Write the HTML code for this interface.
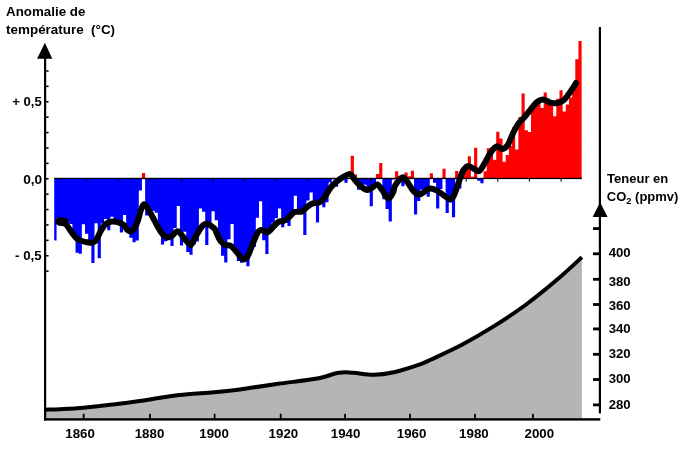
<!DOCTYPE html>
<html><head><meta charset="utf-8"><title>Anomalie de température et teneur en CO2</title>
<style>
html,body{margin:0;padding:0;background:#fff;}
body{width:690px;height:449px;overflow:hidden;}
svg{display:block;}
text{font-family:"Liberation Sans",sans-serif;font-weight:bold;fill:#000;}
.n{font-size:12.8px;}
.t{font-size:13px;}
</style></head><body>
<svg width="690" height="449" viewBox="0 0 690 449">
<rect width="690" height="449" fill="#fff"/>
<!-- CO2 area -->
<path d="M45.5,409.7 C47.9,409.6 53.7,409.5 60.0,409.2 C66.3,408.9 74.8,408.6 83.5,407.8 C92.2,407.0 101.4,406.0 112.5,404.6 C123.6,403.2 138.9,401.0 150.0,399.4 C161.1,397.8 168.3,396.2 179.0,395.0 C189.7,393.8 203.8,393.1 214.0,392.2 C224.2,391.3 234.2,390.2 240.0,389.5 C245.8,388.8 242.7,389.1 249.0,388.1 C255.3,387.2 266.9,385.4 278.0,383.8 C289.1,382.2 305.6,380.6 315.7,378.8 C325.8,377.0 332.5,373.8 338.8,372.8 C345.1,371.8 347.5,372.5 353.3,372.8 C359.1,373.1 366.8,374.9 373.6,374.8 C380.4,374.7 386.2,373.9 393.9,372.2 C401.6,370.4 413.8,366.4 420.0,364.3 C426.2,362.2 424.1,362.8 431.2,359.5 C438.3,356.2 452.0,350.0 462.4,344.5 C472.8,339.0 483.2,332.9 493.6,326.4 C504.0,319.9 514.4,313.1 524.8,305.5 C535.2,297.9 546.5,288.7 556.0,280.6 C565.5,272.6 577.6,261.1 581.9,257.2 L581.9,419.5 L45.5,419.5 Z" fill="#b5b5b5"/>
<path d="M45.5,409.7 C47.9,409.6 53.7,409.5 60.0,409.2 C66.3,408.9 74.8,408.6 83.5,407.8 C92.2,407.0 101.4,406.0 112.5,404.6 C123.6,403.2 138.9,401.0 150.0,399.4 C161.1,397.8 168.3,396.2 179.0,395.0 C189.7,393.8 203.8,393.1 214.0,392.2 C224.2,391.3 234.2,390.2 240.0,389.5 C245.8,388.8 242.7,389.1 249.0,388.1 C255.3,387.2 266.9,385.4 278.0,383.8 C289.1,382.2 305.6,380.6 315.7,378.8 C325.8,377.0 332.5,373.8 338.8,372.8 C345.1,371.8 347.5,372.5 353.3,372.8 C359.1,373.1 366.8,374.9 373.6,374.8 C380.4,374.7 386.2,373.9 393.9,372.2 C401.6,370.4 413.8,366.4 420.0,364.3 C426.2,362.2 424.1,362.8 431.2,359.5 C438.3,356.2 452.0,350.0 462.4,344.5 C472.8,339.0 483.2,332.9 493.6,326.4 C504.0,319.9 514.4,313.1 524.8,305.5 C535.2,297.9 546.5,288.7 556.0,280.6 C565.5,272.6 577.6,261.1 581.9,257.2" fill="none" stroke="#000" stroke-width="4" stroke-linejoin="round"/>
<!-- bars -->
<clipPath id="bc"><rect x="54.2" y="0" width="527.8" height="449"/></clipPath>
<filter id="bl" x="-2%" y="-5%" width="104%" height="110%"><feGaussianBlur stdDeviation="0.55"/></filter>
<g clip-path="url(#bc)"><g filter="url(#bl)">
<path d="M53.40,178.40 L53.40,240.58 L56.56,240.58 L56.56,217.97 L59.73,217.97 L59.73,218.78 L62.89,218.78 L62.89,223.30 L66.05,223.30 L66.05,221.68 L69.22,221.68 L69.22,223.94 L72.38,223.94 L72.38,236.22 L75.54,236.22 L75.54,252.85 L78.70,252.85 L78.70,253.82 L81.87,253.82 L81.87,224.27 L85.03,224.27 L85.03,233.79 L88.19,233.79 L88.19,244.13 L91.36,244.13 L91.36,263.03 L94.52,263.03 L94.52,223.30 L97.68,223.30 L97.68,258.18 L100.84,258.18 L100.84,223.46 L104.01,223.46 L104.01,218.94 L107.17,218.94 L107.17,230.24 L110.33,230.24 L110.33,216.84 L113.50,216.84 L113.50,220.71 L116.66,220.71 L116.66,222.97 L119.82,222.97 L119.82,232.50 L122.99,232.50 L122.99,215.06 L126.15,215.06 L126.15,227.50 L129.31,227.50 L129.31,237.83 L132.47,237.83 L132.47,242.19 L135.64,242.19 L135.64,240.42 L138.80,240.42 L138.80,190.51 L141.96,190.51 L141.96,178.40 L145.13,178.40 L145.13,215.55 L148.29,215.55 L148.29,215.06 L151.45,215.06 L151.45,210.70 L154.62,210.70 L154.62,212.80 L157.78,212.80 L157.78,226.20 L160.94,226.20 L160.94,244.45 L164.10,244.45 L164.10,241.22 L167.27,241.22 L167.27,237.67 L170.43,237.67 L170.43,245.91 L173.59,245.91 L173.59,227.98 L176.76,227.98 L176.76,206.02 L179.92,206.02 L179.92,245.58 L183.08,245.58 L183.08,231.69 L186.25,231.69 L186.25,251.88 L189.41,251.88 L189.41,254.79 L192.57,254.79 L192.57,244.62 L195.73,244.62 L195.73,241.38 L198.90,241.38 L198.90,208.44 L202.06,208.44 L202.06,211.67 L205.22,211.67 L205.22,244.94 L208.39,244.94 L208.39,225.07 L211.55,225.07 L211.55,211.18 L214.71,211.18 L214.71,220.23 L217.88,220.23 L217.88,243.32 L221.04,243.32 L221.04,255.76 L224.20,255.76 L224.20,262.38 L227.37,262.38 L227.37,239.29 L230.53,239.29 L230.53,224.10 L233.69,224.10 L233.69,253.50 L236.85,253.50 L236.85,260.93 L240.02,260.93 L240.02,262.70 L243.18,262.70 L243.18,257.54 L246.34,257.54 L246.34,266.26 L249.51,266.26 L249.51,248.98 L252.67,248.98 L252.67,246.88 L255.83,246.88 L255.83,217.81 L259.00,217.81 L259.00,201.17 L262.16,201.17 L262.16,240.25 L265.32,240.25 L265.32,253.98 L268.48,253.98 L268.48,232.18 L271.65,232.18 L271.65,222.81 L274.81,222.81 L274.81,218.29 L277.97,218.29 L277.97,208.60 L281.14,208.60 L281.14,227.17 L284.30,227.17 L284.30,222.97 L287.46,222.97 L287.46,225.88 L290.62,225.88 L290.62,213.12 L293.79,213.12 L293.79,195.84 L296.95,195.84 L296.95,212.31 L300.11,212.31 L300.11,211.67 L303.28,211.67 L303.28,234.93 L306.44,234.93 L306.44,200.53 L309.60,200.53 L309.60,192.45 L312.77,192.45 L312.77,200.53 L315.93,200.53 L315.93,222.49 L319.09,222.49 L319.09,199.56 L322.25,199.56 L322.25,207.15 L325.42,207.15 L325.42,202.14 L328.58,202.14 L328.58,182.60 L331.74,182.60 L331.74,179.37 L334.91,179.37 L334.91,186.80 L338.07,186.80 L338.07,178.40 L341.23,178.40 L341.23,178.40 L344.40,178.40 L344.40,182.76 L347.56,182.76 L347.56,179.05 L350.72,179.05 L350.72,178.40 L353.88,178.40 L353.88,178.40 L357.05,178.40 L357.05,189.87 L360.21,189.87 L360.21,184.54 L363.37,184.54 L363.37,184.70 L366.54,184.70 L366.54,190.35 L369.70,190.35 L369.70,206.34 L372.86,206.34 L372.86,186.80 L376.03,186.80 L376.03,178.40 L379.19,178.40 L379.19,178.40 L382.35,178.40 L382.35,199.23 L385.51,199.23 L385.51,209.09 L388.68,209.09 L388.68,221.52 L391.84,221.52 L391.84,179.53 L395.00,179.53 L395.00,178.40 L398.17,178.40 L398.17,178.40 L401.33,178.40 L401.33,186.31 L404.49,186.31 L404.49,178.40 L407.66,178.40 L407.66,178.40 L410.82,178.40 L410.82,178.40 L413.98,178.40 L413.98,214.41 L417.14,214.41 L417.14,201.01 L420.31,201.01 L420.31,189.38 L423.47,189.38 L423.47,190.35 L426.63,190.35 L426.63,196.65 L429.80,196.65 L429.80,178.40 L432.96,178.40 L432.96,182.76 L436.12,182.76 L436.12,208.44 L439.29,208.44 L439.29,188.90 L442.45,188.90 L442.45,178.40 L445.61,178.40 L445.61,212.96 L448.77,212.96 L448.77,202.46 L451.94,202.46 L451.94,217.32 L455.10,217.32 L455.10,178.40 L458.26,178.40 L458.26,188.41 L461.43,188.41 L461.43,178.40 L464.59,178.40 L464.59,178.40 L467.75,178.40 L467.75,178.40 L470.92,178.40 L470.92,178.40 L474.08,178.40 L474.08,178.40 L477.24,178.40 L477.24,180.66 L480.40,180.66 L480.40,183.25 L483.57,183.25 L483.57,178.40 L486.73,178.40 L486.73,178.40 L489.89,178.40 L489.89,178.40 L493.06,178.40 L493.06,178.40 L496.22,178.40 L496.22,178.40 L499.38,178.40 L499.38,178.40 L502.55,178.40 L502.55,178.40 L505.71,178.40 L505.71,178.40 L508.87,178.40 L508.87,178.40 L512.03,178.40 L512.03,178.40 L515.20,178.40 L515.20,178.40 L518.36,178.40 L518.36,178.40 L521.52,178.40 L521.52,178.40 L524.69,178.40 L524.69,178.40 L527.85,178.40 L527.85,178.40 L531.01,178.40 L531.01,178.40 L534.18,178.40 L534.18,178.40 L537.34,178.40 L537.34,178.40 L540.50,178.40 L540.50,178.40 L543.66,178.40 L543.66,178.40 L546.83,178.40 L546.83,178.40 L549.99,178.40 L549.99,178.40 L553.15,178.40 L553.15,178.40 L556.32,178.40 L556.32,178.40 L559.48,178.40 L559.48,178.40 L562.64,178.40 L562.64,178.40 L565.81,178.40 L565.81,178.40 L568.97,178.40 L568.97,178.40 L572.13,178.40 L572.13,178.40 L575.29,178.40 L575.29,178.40 L578.46,178.40 L578.46,178.40 L581.62,178.40 L581.62,178.40 Z" fill="#0000ff"/>
<path d="M53.40,178.40 L53.40,178.40 L56.56,178.40 L56.56,178.40 L59.73,178.40 L59.73,178.40 L62.89,178.40 L62.89,178.40 L66.05,178.40 L66.05,178.40 L69.22,178.40 L69.22,178.40 L72.38,178.40 L72.38,178.40 L75.54,178.40 L75.54,178.40 L78.70,178.40 L78.70,178.40 L81.87,178.40 L81.87,178.40 L85.03,178.40 L85.03,178.40 L88.19,178.40 L88.19,178.40 L91.36,178.40 L91.36,178.40 L94.52,178.40 L94.52,178.40 L97.68,178.40 L97.68,178.40 L100.84,178.40 L100.84,178.40 L104.01,178.40 L104.01,178.40 L107.17,178.40 L107.17,178.40 L110.33,178.40 L110.33,178.40 L113.50,178.40 L113.50,178.40 L116.66,178.40 L116.66,178.40 L119.82,178.40 L119.82,178.40 L122.99,178.40 L122.99,178.40 L126.15,178.40 L126.15,178.40 L129.31,178.40 L129.31,178.40 L132.47,178.40 L132.47,178.40 L135.64,178.40 L135.64,178.40 L138.80,178.40 L138.80,178.40 L141.96,178.40 L141.96,172.89 L145.13,172.89 L145.13,178.40 L148.29,178.40 L148.29,178.40 L151.45,178.40 L151.45,178.40 L154.62,178.40 L154.62,178.40 L157.78,178.40 L157.78,178.40 L160.94,178.40 L160.94,178.40 L164.10,178.40 L164.10,178.40 L167.27,178.40 L167.27,178.40 L170.43,178.40 L170.43,178.40 L173.59,178.40 L173.59,178.40 L176.76,178.40 L176.76,178.40 L179.92,178.40 L179.92,178.40 L183.08,178.40 L183.08,178.40 L186.25,178.40 L186.25,178.40 L189.41,178.40 L189.41,178.40 L192.57,178.40 L192.57,178.40 L195.73,178.40 L195.73,178.40 L198.90,178.40 L198.90,178.40 L202.06,178.40 L202.06,178.40 L205.22,178.40 L205.22,178.40 L208.39,178.40 L208.39,178.40 L211.55,178.40 L211.55,178.40 L214.71,178.40 L214.71,178.40 L217.88,178.40 L217.88,178.40 L221.04,178.40 L221.04,178.40 L224.20,178.40 L224.20,178.40 L227.37,178.40 L227.37,178.40 L230.53,178.40 L230.53,178.40 L233.69,178.40 L233.69,178.40 L236.85,178.40 L236.85,178.40 L240.02,178.40 L240.02,178.40 L243.18,178.40 L243.18,178.40 L246.34,178.40 L246.34,178.40 L249.51,178.40 L249.51,178.40 L252.67,178.40 L252.67,178.40 L255.83,178.40 L255.83,178.40 L259.00,178.40 L259.00,178.40 L262.16,178.40 L262.16,178.40 L265.32,178.40 L265.32,178.40 L268.48,178.40 L268.48,178.40 L271.65,178.40 L271.65,178.40 L274.81,178.40 L274.81,178.40 L277.97,178.40 L277.97,178.40 L281.14,178.40 L281.14,178.40 L284.30,178.40 L284.30,178.40 L287.46,178.40 L287.46,178.40 L290.62,178.40 L290.62,178.40 L293.79,178.40 L293.79,178.40 L296.95,178.40 L296.95,178.40 L300.11,178.40 L300.11,178.40 L303.28,178.40 L303.28,178.40 L306.44,178.40 L306.44,178.40 L309.60,178.40 L309.60,178.40 L312.77,178.40 L312.77,178.40 L315.93,178.40 L315.93,178.40 L319.09,178.40 L319.09,178.40 L322.25,178.40 L322.25,178.40 L325.42,178.40 L325.42,178.40 L328.58,178.40 L328.58,178.40 L331.74,178.40 L331.74,178.40 L334.91,178.40 L334.91,178.40 L338.07,178.40 L338.07,176.19 L341.23,176.19 L341.23,175.25 L344.40,175.25 L344.40,178.40 L347.56,178.40 L347.56,178.40 L350.72,178.40 L350.72,155.72 L353.88,155.72 L353.88,174.46 L357.05,174.46 L357.05,178.40 L360.21,178.40 L360.21,178.40 L363.37,178.40 L363.37,178.40 L366.54,178.40 L366.54,178.40 L369.70,178.40 L369.70,178.40 L372.86,178.40 L372.86,178.40 L376.03,178.40 L376.03,173.99 L379.19,173.99 L379.19,163.12 L382.35,163.12 L382.35,178.40 L385.51,178.40 L385.51,178.40 L388.68,178.40 L388.68,178.40 L391.84,178.40 L391.84,178.40 L395.00,178.40 L395.00,171.16 L398.17,171.16 L398.17,175.72 L401.33,175.72 L401.33,178.40 L404.49,178.40 L404.49,172.42 L407.66,172.42 L407.66,176.19 L410.82,176.19 L410.82,170.84 L413.98,170.84 L413.98,178.40 L417.14,178.40 L417.14,178.40 L420.31,178.40 L420.31,178.40 L423.47,178.40 L423.47,178.40 L426.63,178.40 L426.63,178.40 L429.80,178.40 L429.80,173.36 L432.96,173.36 L432.96,178.40 L436.12,178.40 L436.12,178.40 L439.29,178.40 L439.29,178.40 L442.45,178.40 L442.45,168.63 L445.61,168.63 L445.61,178.40 L448.77,178.40 L448.77,178.40 L451.94,178.40 L451.94,178.40 L455.10,178.40 L455.10,171.00 L458.26,171.00 L458.26,178.40 L461.43,178.40 L461.43,169.42 L464.59,169.42 L464.59,163.91 L467.75,163.91 L467.75,156.35 L470.92,156.35 L470.92,176.67 L474.08,176.67 L474.08,147.84 L477.24,147.84 L477.24,178.40 L480.40,178.40 L480.40,178.40 L483.57,178.40 L483.57,171.31 L486.73,171.31 L486.73,148.16 L489.89,148.16 L489.89,147.22 L493.06,147.22 L493.06,159.81 L496.22,159.81 L496.22,131.78 L499.38,131.78 L499.38,138.40 L502.55,138.40 L502.55,161.86 L505.71,161.86 L505.71,155.09 L508.87,155.09 L508.87,145.64 L512.03,145.64 L512.03,127.21 L515.20,127.21 L515.20,149.58 L518.36,149.58 L518.36,116.97 L521.52,116.97 L521.52,93.51 L524.69,93.51 L524.69,130.21 L527.85,130.21 L527.85,132.09 L531.01,132.09 L531.01,108.94 L534.18,108.94 L534.18,100.28 L537.34,100.28 L537.34,98.86 L540.50,98.86 L540.50,108.00 L543.66,108.00 L543.66,92.56 L546.83,92.56 L546.83,98.70 L549.99,98.70 L549.99,101.07 L553.15,101.07 L553.15,116.19 L556.32,116.19 L556.32,98.70 L559.48,98.70 L559.48,90.20 L562.64,90.20 L562.64,111.46 L565.81,111.46 L565.81,104.38 L568.97,104.38 L568.97,97.45 L572.13,97.45 L572.13,87.21 L575.29,87.21 L575.29,59.17 L578.46,59.17 L578.46,40.90 L581.62,40.90 L581.62,178.40 Z" fill="#ff0000"/>
</g></g>
<rect x="54" y="177.8" width="528" height="1.3" fill="#000"/>
<rect x="86.1" y="178.5" width="1" height="3.2" fill="#000"/><rect x="117.7" y="178.5" width="1" height="3.2" fill="#000"/><rect x="149.4" y="178.5" width="1" height="3.2" fill="#000"/><rect x="181.0" y="178.5" width="1" height="3.2" fill="#000"/><rect x="212.6" y="178.5" width="1" height="3.2" fill="#000"/><rect x="244.3" y="178.5" width="1" height="3.2" fill="#000"/><rect x="275.9" y="178.5" width="1" height="3.2" fill="#000"/><rect x="307.5" y="178.5" width="1" height="3.2" fill="#000"/><rect x="339.2" y="178.5" width="1" height="3.2" fill="#000"/><rect x="370.8" y="178.5" width="1" height="3.2" fill="#000"/><rect x="402.4" y="178.5" width="1" height="3.2" fill="#000"/><rect x="434.0" y="178.5" width="1" height="3.2" fill="#000"/><rect x="465.7" y="178.5" width="1" height="3.2" fill="#000"/><rect x="497.3" y="178.5" width="1" height="3.2" fill="#000"/><rect x="528.9" y="178.5" width="1" height="3.2" fill="#000"/><rect x="560.6" y="178.5" width="1" height="3.2" fill="#000"/>
<!-- smooth -->
<path d="M58.5,221.6 C58.9,221.5 60.1,220.8 61.0,221.0 C61.9,221.2 63.0,221.8 64.0,222.5 C65.0,223.2 65.7,223.8 67.0,225.5 C68.3,227.2 70.2,230.3 71.8,232.5 C73.4,234.7 75.0,237.1 76.7,238.5 C78.4,239.9 80.3,240.4 82.0,241.0 C83.7,241.6 85.3,242.0 87.0,242.3 C88.7,242.6 90.5,243.1 92.0,242.8 C93.5,242.5 94.7,242.2 96.0,240.5 C97.3,238.8 98.7,234.9 100.0,232.5 C101.3,230.1 102.7,227.4 104.0,225.8 C105.3,224.2 106.6,223.5 108.0,222.8 C109.4,222.1 110.6,221.7 112.3,221.6 C114.0,221.5 116.4,221.7 118.4,222.3 C120.4,223.0 123.0,224.2 124.5,225.5 C126.0,226.8 126.1,229.1 127.4,230.0 C128.7,230.9 130.7,231.9 132.3,230.7 C133.9,229.5 135.8,226.0 137.2,222.6 C138.6,219.2 139.7,213.4 140.8,210.3 C141.9,207.2 142.8,204.4 144.0,204.2 C145.2,204.0 146.5,206.4 148.2,209.1 C149.9,211.8 152.3,216.4 154.3,220.1 C156.3,223.8 158.4,228.3 160.4,231.2 C162.4,234.1 164.8,236.5 166.6,237.3 C168.4,238.1 169.7,237.1 171.5,236.1 C173.3,235.1 175.8,231.2 177.6,231.2 C179.4,231.2 180.9,234.3 182.5,236.1 C184.1,237.9 186.0,240.8 187.4,242.2 C188.8,243.6 189.7,245.7 191.1,244.7 C192.5,243.7 194.2,239.2 196.0,236.1 C197.8,233.0 200.3,228.4 202.1,226.3 C203.9,224.2 205.2,223.6 207.0,223.8 C208.8,224.0 211.8,226.6 213.1,227.5 C214.4,228.4 213.8,227.1 214.9,229.2 C216.0,231.2 218.2,237.2 219.8,239.8 C221.4,242.4 222.9,243.7 224.7,244.7 C226.5,245.7 229.0,244.9 230.8,245.9 C232.6,246.9 234.1,249.0 235.7,250.8 C237.3,252.6 239.2,255.5 240.6,256.9 C242.0,258.3 243.1,259.6 244.3,259.4 C245.5,259.2 246.6,258.4 248.0,255.7 C249.4,253.0 251.3,247.3 252.9,243.4 C254.5,239.5 256.4,234.6 257.8,232.4 C259.2,230.2 259.9,230.0 261.5,230.0 C263.1,230.0 265.6,233.0 267.6,232.4 C269.6,231.8 271.9,228.1 273.7,226.3 C275.5,224.6 277.0,222.8 278.6,221.9 C280.2,221.0 281.9,221.6 283.5,220.9 C285.1,220.2 286.5,219.2 288.4,217.7 C290.2,216.2 292.4,213.1 294.6,212.1 C296.9,211.1 300.0,212.3 301.9,211.6 C303.8,210.9 304.4,209.2 306.1,207.9 C307.8,206.6 310.1,204.4 312.3,203.5 C314.6,202.6 317.6,203.3 319.6,202.3 C321.6,201.3 322.7,199.9 324.5,197.4 C326.3,194.9 328.6,190.2 330.6,187.6 C332.7,184.9 334.8,183.2 336.8,181.5 C338.9,179.8 340.7,178.3 342.9,177.1 C345.1,175.9 348.2,173.6 350.2,174.1 C352.2,174.6 353.2,178.1 355.1,180.2 C357.0,182.3 359.2,185.3 361.3,186.9 C363.4,188.5 365.6,189.9 367.4,190.0 C369.2,190.1 370.7,188.5 372.3,187.6 C373.9,186.7 375.6,184.0 377.2,184.4 C378.8,184.8 380.3,187.6 382.1,190.0 C383.9,192.4 386.4,198.2 388.2,198.6 C390.0,199.0 392.0,194.6 393.1,192.5 C394.2,190.4 393.8,188.2 394.9,186.0 C396.0,183.8 398.4,180.8 399.8,179.4 C401.2,178.0 402.1,176.7 403.5,177.4 C404.9,178.1 406.8,181.2 408.4,183.5 C410.0,185.8 411.5,189.1 413.3,190.9 C415.1,192.8 417.4,194.6 419.4,194.6 C421.4,194.6 423.7,191.9 425.5,190.9 C427.3,189.9 428.5,188.5 430.4,188.4 C432.2,188.3 434.6,189.4 436.6,190.4 C438.7,191.4 440.7,193.2 442.7,194.6 C444.7,196.0 447.2,198.1 448.8,198.7 C450.4,199.3 451.3,199.7 452.5,198.2 C453.7,196.7 455.0,193.0 456.2,189.7 C457.4,186.4 458.7,181.9 459.9,178.6 C461.1,175.3 462.1,172.1 463.5,170.0 C464.9,167.9 466.5,166.0 468.4,165.9 C470.2,165.8 472.8,168.5 474.6,169.3 C476.5,170.1 477.7,172.1 479.5,170.8 C481.3,169.5 483.7,164.8 485.6,161.6 C487.5,158.4 489.2,154.4 491.1,151.9 C493.0,149.4 494.8,146.8 496.7,146.3 C498.6,145.8 500.4,149.3 502.3,149.1 C504.2,148.9 506.0,147.7 507.8,144.9 C509.6,142.1 511.5,136.1 513.4,132.4 C515.3,128.7 517.1,125.2 519.0,122.7 C520.9,120.2 522.8,119.2 524.6,117.1 C526.5,115.0 528.2,112.4 530.1,110.1 C532.0,107.8 533.6,105.0 535.7,103.2 C537.8,101.4 540.4,99.7 542.7,99.5 C545.0,99.3 547.3,101.7 549.6,102.3 C551.9,102.9 554.3,103.5 556.6,103.2 C558.9,102.9 561.4,102.0 563.5,100.4 C565.6,98.8 567.2,96.0 569.1,93.4 C571.0,90.9 573.6,86.8 574.7,85.1 C575.9,83.4 575.8,83.3 576.0,83.0" fill="none" stroke="#000" stroke-width="6" stroke-linejoin="round" stroke-linecap="round"/>
<path d="M59.6,221.4 L64.5,222" fill="none" stroke="#000" stroke-width="8.6" stroke-linecap="round"/>
<!-- axes -->
<rect x="44.0" y="56" width="2.2" height="364.5" fill="#000"/>
<polygon points="44.9,42.8 52.3,58.8 37.1,58.8" fill="#000"/>
<rect x="44.0" y="418.2" width="556.3" height="2.4" fill="#000"/>
<rect x="598.8" y="27" width="2.2" height="386.4" fill="#000"/>
<polygon points="600.1,202.3 607.6,217 592.6,217" fill="#000"/>
<rect x="45" y="270.40" width="3.6" height="1.5" fill="#000"/>
<rect x="45" y="255.00" width="3.6" height="1.5" fill="#000"/>
<rect x="45" y="239.60" width="3.6" height="1.5" fill="#000"/>
<rect x="45" y="224.20" width="3.6" height="1.5" fill="#000"/>
<rect x="45" y="208.80" width="3.6" height="1.5" fill="#000"/>
<rect x="45" y="193.40" width="3.6" height="1.5" fill="#000"/>
<rect x="45" y="178.00" width="3.6" height="1.5" fill="#000"/>
<rect x="45" y="162.60" width="3.6" height="1.5" fill="#000"/>
<rect x="45" y="147.20" width="3.6" height="1.5" fill="#000"/>
<rect x="45" y="131.80" width="3.6" height="1.5" fill="#000"/>
<rect x="45" y="116.40" width="3.6" height="1.5" fill="#000"/>
<rect x="45" y="101.00" width="3.6" height="1.5" fill="#000"/>
<rect x="45" y="85.60" width="3.6" height="1.5" fill="#000"/>
<rect x="45" y="70.20" width="3.6" height="1.5" fill="#000"/>
<rect x="593" y="252.40" width="7" height="2.8" fill="#000"/>
<rect x="593" y="277.90" width="7" height="2.8" fill="#000"/>
<rect x="593" y="303.10" width="7" height="2.8" fill="#000"/>
<rect x="593" y="327.50" width="7" height="2.8" fill="#000"/>
<rect x="593" y="352.90" width="7" height="2.8" fill="#000"/>
<rect x="593" y="378.10" width="7" height="2.8" fill="#000"/>
<rect x="593" y="403.50" width="7" height="2.8" fill="#000"/>
<rect x="593" y="227.20" width="7" height="2.8" fill="#000"/>
<rect x="82.8" y="413.8" width="1.8" height="6" fill="#000"/>
<rect x="149.1" y="413.8" width="1.8" height="6" fill="#000"/>
<rect x="213.7" y="413.8" width="1.8" height="6" fill="#000"/>
<rect x="279.8" y="413.8" width="1.8" height="6" fill="#000"/>
<rect x="344.2" y="413.8" width="1.8" height="6" fill="#000"/>
<rect x="409.0" y="413.8" width="1.8" height="6" fill="#000"/>
<rect x="474.1" y="413.8" width="1.8" height="6" fill="#000"/>
<rect x="532.0" y="413.8" width="1.8" height="6" fill="#000"/>
<!-- labels -->
<text x="6.1" y="16" class="t" textLength="79.2" lengthAdjust="spacingAndGlyphs">Anomalie de</text>
<text x="6.1" y="34.4" class="t" textLength="109" lengthAdjust="spacingAndGlyphs" xml:space="preserve">température  (°C)</text>
<text x="12.2" y="105.9" class="n" textLength="29.5" lengthAdjust="spacingAndGlyphs">+ 0,5</text>
<text x="23.2" y="183.5" class="n" textLength="19" lengthAdjust="spacingAndGlyphs">0,0</text>
<text x="15.1" y="260" class="n" textLength="26.5" lengthAdjust="spacingAndGlyphs">- 0,5</text>
<text x="607.0" y="182.9" class="t" textLength="61.3" lengthAdjust="spacingAndGlyphs">Teneur en</text>
<text x="606.8" y="200.9" class="t" textLength="71.6" lengthAdjust="spacingAndGlyphs">CO<tspan font-size="9.3" dy="3">2</tspan><tspan dy="-3"> (ppmv)</tspan></text>
<text x="608.7" y="256.8" class="n" textLength="22" lengthAdjust="spacingAndGlyphs">400</text>
<text x="608.7" y="285.5" class="n" textLength="22" lengthAdjust="spacingAndGlyphs">380</text>
<text x="608.7" y="309.5" class="n" textLength="22" lengthAdjust="spacingAndGlyphs">360</text>
<text x="608.7" y="333.3" class="n" textLength="22" lengthAdjust="spacingAndGlyphs">340</text>
<text x="608.7" y="357.7" class="n" textLength="22" lengthAdjust="spacingAndGlyphs">320</text>
<text x="608.7" y="382.5" class="n" textLength="22" lengthAdjust="spacingAndGlyphs">300</text>
<text x="608.7" y="408.7" class="n" textLength="22" lengthAdjust="spacingAndGlyphs">280</text>
<text x="80.1" y="438.2" class="n" text-anchor="middle" textLength="29.6" lengthAdjust="spacingAndGlyphs">1860</text>
<text x="149.5" y="438.2" class="n" text-anchor="middle" textLength="29.6" lengthAdjust="spacingAndGlyphs">1880</text>
<text x="214.1" y="438.2" class="n" text-anchor="middle" textLength="29.6" lengthAdjust="spacingAndGlyphs">1900</text>
<text x="283.4" y="438.2" class="n" text-anchor="middle" textLength="29.6" lengthAdjust="spacingAndGlyphs">1920</text>
<text x="345.6" y="438.2" class="n" text-anchor="middle" textLength="29.6" lengthAdjust="spacingAndGlyphs">1940</text>
<text x="411.6" y="438.2" class="n" text-anchor="middle" textLength="29.6" lengthAdjust="spacingAndGlyphs">1960</text>
<text x="473.9" y="438.2" class="n" text-anchor="middle" textLength="29.6" lengthAdjust="spacingAndGlyphs">1980</text>
<text x="539.3" y="438.2" class="n" text-anchor="middle" textLength="29.6" lengthAdjust="spacingAndGlyphs">2000</text>
</svg>
</body></html>
